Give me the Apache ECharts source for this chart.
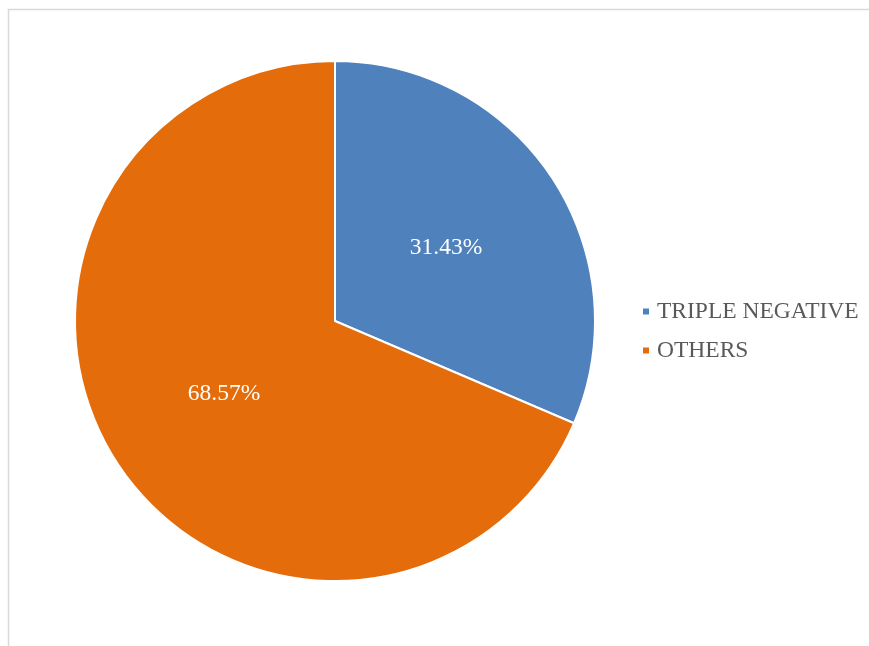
<!DOCTYPE html>
<html>
<head>
<meta charset="utf-8">
<script src="https://cdn.jsdelivr.net/npm/echarts@6/dist/echarts.min.js"></script>
<style>
html,body{margin:0;padding:0;background:#fff;}
#chart{width:869px;height:646px;}
</style>
</head>
<body>
<div id="chart"></div>
<script>
const categories = ["TRIPLE NEGATIVE", "OTHERS"];
const values = [31.43, 68.57];
const colors = ["#4F81BD", "#E46C0A"];

const chart = echarts.init(document.getElementById('chart'));
chart.setOption({
  animation: false,
  backgroundColor: '#ffffff',
  graphic: [
    { type: 'line', shape: { x1: 8, y1: 9.5, x2: 869, y2: 9.5 }, style: { stroke: '#d9d9d9', lineWidth: 1.5 } },
    { type: 'line', shape: { x1: 8.5, y1: 9, x2: 8.5, y2: 646 }, style: { stroke: '#d9d9d9', lineWidth: 1.5 } }
  ],
  legend: {
    orient: 'vertical',
    left: 641,
    top: 299,
    padding: 0,
    icon: 'rect',
    itemWidth: 8,
    itemHeight: 8,
    itemGap: 14,
    data: categories,
    textStyle: { fontFamily: 'Liberation Serif', fontSize: 23.5, color: '#595959', lineHeight: 23, padding: [2,0,0,2] }
  },
  series: [{
    type: 'pie',
    center: [335, 321],
    radius: [0, 260],
    startAngle: 90,
    clockwise: true,
    color: colors,
    itemStyle: { borderColor: '#ffffff', borderWidth: 2 },
    label: {
      position: 'inside',
      formatter: p => p.value.toFixed(2) + '%',
      fontFamily: 'Liberation Serif',
      fontSize: 23.5,
      color: '#ffffff',
      padding: [8, 0, 0, 0]
    },
    labelLine: { show: false },
    emphasis: { disabled: true },
    data: categories.map((c, i) => ({ name: c, value: values[i] }))
  }]
});
</script>
</body>
</html>
